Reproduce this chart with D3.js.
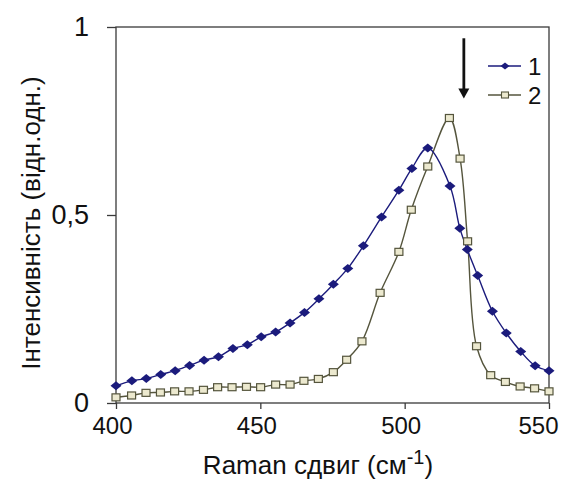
<!DOCTYPE html>
<html>
<head>
<meta charset="utf-8">
<script src="https://cdn.jsdelivr.net/npm/d3@7"></script>
<style>
  body { margin: 0; background: #fff; }
  text { font-family: "Liberation Sans", Arial, sans-serif; fill: #111; }
</style>
</head>
<body>
<div id="chart"></div>
<script>
const width = 568
const height = 479
const margin = { top: 27, bottom: 76, left: 116, right: 19 }

// series 1 (diamonds)
const x1 = [400, 405.5, 410.5, 415.5, 420.5, 425.5, 430.5, 435.5, 440.5, 445.5, 450.3, 455.3, 460.3, 465.3, 470.3, 475.3, 480.3, 485.7, 492, 498, 502.5, 508, 515.7, 519.1, 521.7, 525.3, 530.4, 535.2, 540.2, 545.2, 550]
const y1 = [0.046, 0.059, 0.065, 0.076, 0.086, 0.100, 0.114, 0.123, 0.145, 0.155, 0.176, 0.189, 0.213, 0.241, 0.277, 0.316, 0.358, 0.418, 0.495, 0.566, 0.624, 0.678, 0.577, 0.465, 0.408, 0.339, 0.244, 0.186, 0.137, 0.099, 0.086]
// series 2 (squares)
const x2 = [400, 405.4, 410.4, 415.4, 420.3, 425.3, 430.3, 435.2, 440.2, 445.2, 450.1, 455.3, 460.3, 465.1, 470.1, 475.3, 479.9, 485.2, 491.5, 498, 502.3, 508, 515.5, 519.2, 521.8, 524.9, 529.8, 534.9, 540, 545, 550]
const y2 = [0.015, 0.020, 0.027, 0.028, 0.031, 0.031, 0.035, 0.042, 0.042, 0.043, 0.042, 0.049, 0.049, 0.059, 0.064, 0.082, 0.115, 0.164, 0.293, 0.402, 0.514, 0.629, 0.758, 0.650, 0.430, 0.151, 0.074, 0.056, 0.044, 0.039, 0.031]

const xTicks = [400, 450, 500, 550]
const yTicks = [0, 0.5, 1]
const yTickLabels = ["0", "0,5", "1"]
const seriesNames = ["1", "2"]
const arrowX = 520.5
const arrowY = [0.97, 0.81]

const innerW = width - margin.left - margin.right
const innerH = height - margin.top - margin.bottom

const svg = d3.select("div#chart").append("svg").attr("width", width).attr("height", height)
const g = svg.append("g").attr("transform", `translate(${margin.left}, ${margin.top})`)

const x = d3.scaleLinear().domain([400, 550]).range([0, innerW])
const y = d3.scaleLinear().domain([0, 1]).range([innerH, 0])

// frame
g.append("rect").attr("width", innerW).attr("height", innerH)
    .attr("fill", "none").attr("stroke", "#3a3a3a").attr("stroke-width", 1.3)

const xAxis = d3.axisBottom(x).tickValues(xTicks).tickSize(6).tickSizeOuter(0).tickPadding(8)
const yAxis = d3.axisLeft(y).tickValues(yTicks).tickSize(9).tickSizeOuter(0).tickPadding(18)
    .tickFormat((d, i) => yTickLabels[i])

const xg = g.append("g").attr("transform", `translate(0, ${innerH})`).call(xAxis)
const yg = g.append("g").call(yAxis)
xg.select(".domain").remove()
yg.select(".domain").remove()
xg.selectAll("line").attr("stroke", "#3a3a3a").attr("stroke-width", 1.3)
yg.selectAll("line").attr("stroke", "#3a3a3a").attr("stroke-width", 1.3)
xg.selectAll("text").style("font-size", "24px").style("font-family", "Liberation Sans, Arial, sans-serif").attr("fill", "#222")
    .attr("dx", (d, i) => i === xTicks.length - 1 ? -11 : -4)
yg.selectAll("text").style("font-size", "27px").style("font-family", "Liberation Sans, Arial, sans-serif").attr("fill", "#222")

const d1 = x1.map((v, i) => ({ x: v, y: y1[i] }))
const d2 = x2.map((v, i) => ({ x: v, y: y2[i] }))

const line = d3.line().x(d => x(d.x)).y(d => y(d.y)).curve(d3.curveCatmullRom.alpha(0.5))

const c1 = "#1b1b7c"
const c2 = "#55553d"
const fill2 = "#ece9cf"

g.append("path").datum(d2).attr("d", line).attr("fill", "none").attr("stroke", c2).attr("stroke-width", 1.4)
g.append("path").datum(d1).attr("d", line).attr("fill", "none").attr("stroke", c1).attr("stroke-width", 1.4)

const diamond = "M0,-4.5L5.5,0L0,4.5L-5.5,0Z"

g.selectAll(".sq").data(d2).enter().append("rect")
    .attr("x", d => x(d.x) - 4).attr("y", d => y(d.y) - 3.5)
    .attr("width", 8).attr("height", 7)
    .attr("fill", fill2).attr("stroke", c2).attr("stroke-width", 1.2)

g.selectAll(".dm").data(d1).enter().append("path")
    .attr("d", diamond)
    .attr("transform", d => `translate(${x(d.x)}, ${y(d.y)})`)
    .attr("fill", c1)

// legend
const legend = svg.append("g").attr("transform", "translate(488, 66)")
seriesNames.forEach((name, i) => {
    const row = legend.append("g").attr("transform", `translate(0, ${i * 29})`)
    row.append("line").attr("x1", 0).attr("x2", 33).attr("y1", 0).attr("y2", 0)
        .attr("stroke", i === 0 ? c1 : c2).attr("stroke-width", 1.4)
    if (i === 0) {
        row.append("path").attr("d", "M0,-3.5L4.5,0L0,3.5L-4.5,0Z").attr("transform", "translate(17,0)").attr("fill", c1)
    } else {
        row.append("rect").attr("x", 13.5).attr("y", -3).attr("width", 7).attr("height", 6)
            .attr("fill", fill2).attr("stroke", c2).attr("stroke-width", 1.1)
    }
    row.append("text").attr("x", 40).attr("y", 0).attr("dy", "0.36em")
        .style("font-size", "24px").attr("fill", "#222").text(name)
})

// arrow
g.append("line").attr("x1", x(arrowX)).attr("x2", x(arrowX))
    .attr("y1", y(arrowY[0])).attr("y2", y(arrowY[1]) - 8)
    .attr("stroke", "#111").attr("stroke-width", 2.8)
g.append("path")
    .attr("d", `M${x(arrowX) - 5.5},${y(arrowY[1]) - 10}L${x(arrowX) + 5.5},${y(arrowY[1]) - 10}L${x(arrowX)},${y(arrowY[1])}Z`)
    .attr("fill", "#111")

// axis titles
svg.append("text")
    .attr("transform", "translate(40, 223) rotate(-90)")
    .attr("text-anchor", "middle")
    .style("font-size", "26px").attr("fill", "#222")
    .text("Інтенсивність (відн.одн.)")

const xt = svg.append("text")
    .attr("x", 318).attr("y", 474)
    .attr("text-anchor", "middle")
    .style("font-size", "26px").attr("fill", "#222")
xt.append("tspan").text("Raman сдвиг (см")
xt.append("tspan").attr("dy", -10).style("font-size", "20px").text("-1")
xt.append("tspan").attr("dy", 10).text(")")
</script>
</body>
</html>
